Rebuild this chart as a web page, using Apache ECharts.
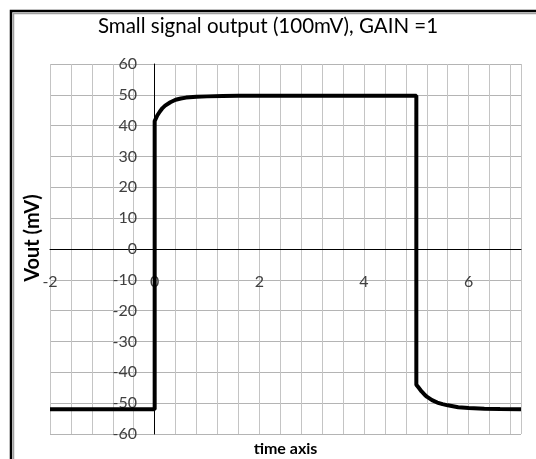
<!DOCTYPE html>
<html>
<head>
<meta charset="utf-8">
<script src="https://cdn.jsdelivr.net/npm/echarts@6/dist/echarts.min.js"></script>
<style>
html,body{margin:0;padding:0;background:#fff;}
#chart{width:536px;height:459px;}
</style>
</head>
<body>
<div id="chart"></div>
<script>
// Data
const timeValues = [-2, -1, -0.5, 0, 0, 0.05, 0.1, 0.15, 0.2, 0.3, 0.4, 0.5, 0.6, 0.8, 1.0, 1.3, 1.6, 2.0, 2.5, 3.0, 3.5, 4.0, 4.5, 5.0, 5.0, 5.05, 5.1, 5.15, 5.2, 5.3, 5.4, 5.5, 5.6, 5.8, 6.0, 6.3, 6.6, 7.0];
const voutValues = [-52, -52, -52, -52, 41.5, 43.3, 44.6, 45.7, 46.5, 47.6, 48.4, 48.8, 49.1, 49.4, 49.5, 49.6, 49.7, 49.7, 49.7, 49.7, 49.7, 49.7, 49.7, 49.7, -44, -45.1, -46.2, -47.1, -47.9, -49.0, -49.8, -50.3, -50.7, -51.3, -51.6, -51.8, -51.9, -52];
const xTickLabels = [-2, 0, 2, 4, 6];
const titleText = 'Small signal output (100mV), GAIN =1';
const xName = 'time axis';
const yName = 'Vout (mV)';

const seriesData = timeValues.map((t, i) => [t, voutValues[i]]);
const FONT = 'Lato, "Open Sans", sans-serif';

const chart = echarts.init(document.getElementById('chart'), null, {renderer: 'canvas'});
chart.setOption({
  animation: false,
  backgroundColor: '#ffffff',
  title: {
    text: titleText,
    left: 'center',
    top: 11,
    textStyle: {fontFamily: FONT, fontSize: 20.5, fontWeight: 'normal', color: '#000'}
  },
  grid: {left: 50, right: 15, top: 64, bottom: 25, outerBoundsMode: 'none', containLabel: false},
  xAxis: {
    type: 'value',
    min: -2,
    max: 7,
    interval: 0.4,
    name: xName,
    nameLocation: 'middle',
    nameGap: 7,
    nameTextStyle: {fontFamily: FONT, fontSize: 16, fontWeight: 'bold', color: '#000'},
    axisLine: {onZero: true, lineStyle: {color: '#000', width: 1}},
    axisTick: {show: false},
    axisLabel: {
      margin: -160,
      fontFamily: FONT, fontSize: 16, color: '#404040',
      showMinLabel: true, showMaxLabel: true,
      formatter: function (v) {
        for (const t of xTickLabels) { if (Math.abs(v - t) < 1e-6) return String(t); }
        return '';
      }
    },
    splitLine: {show: true, lineStyle: {color: '#c4c4c4', width: 1}}
  },
  yAxis: {
    type: 'value',
    min: -60,
    max: 60,
    interval: 10,
    axisLine: {onZero: true, lineStyle: {color: '#000', width: 1}},
    axisTick: {show: false},
    axisLabel: {margin: -87, fontFamily: FONT, fontSize: 16, color: '#404040'},
    splitLine: {show: true, lineStyle: {color: '#b4b4b4', width: 1}}
  },
  graphic: [
    {type: 'rect', silent: true, shape: {x: 11, y: 11, width: 700, height: 700}, style: {fill: 'none', stroke: '#000', lineWidth: 2.5}},
    {type: 'rect', silent: true, shape: {x: 13.5, y: 13.5, width: 700, height: 700}, style: {fill: 'none', stroke: '#a0a0a0', lineWidth: 1.5}},
    {type: 'text', silent: true, x: 33, y: 238, rotation: Math.PI / 2,
     style: {text: yName, fontFamily: FONT, fontSize: 20, fontWeight: 'bold', fill: '#000', align: 'center', verticalAlign: 'middle'}}
  ],
  series: [{
    type: 'line',
    data: seriesData,
    showSymbol: false,
    smooth: false,
    lineStyle: {color: '#000', width: 4},
    z: 5
  }]
});
</script>
</body>
</html>
